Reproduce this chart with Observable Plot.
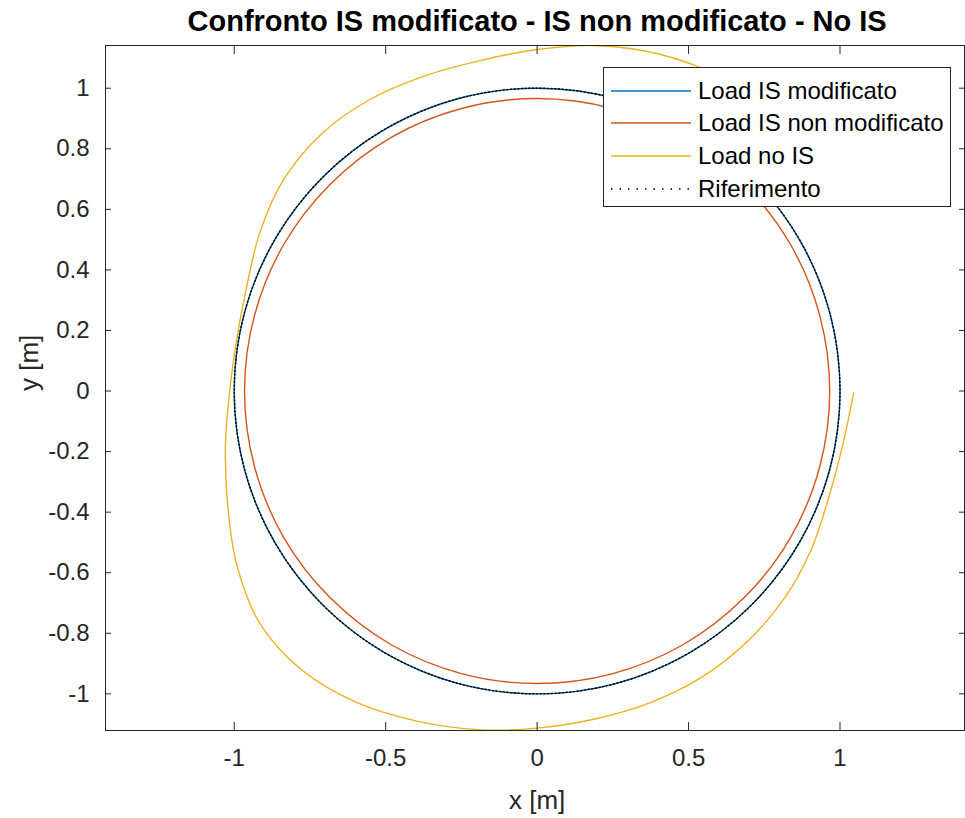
<!DOCTYPE html>
<html>
<head>
<meta charset="utf-8">
<script src="https://cdn.jsdelivr.net/npm/d3@7"></script>
<script src="https://cdn.jsdelivr.net/npm/@observablehq/plot@0.6"></script>
<style>
  body { margin: 0; background: #fff; font-family: "Liberation Sans", Arial, Helvetica, sans-serif; }
  #wrap { position: relative; width: 965px; height: 818px; overflow: hidden; background: #fff; }
  #legend { position: absolute; left: 603px; top: 67px; width: 348px; height: 140px; box-sizing: border-box;
            border: 1px solid #262626; background: #fff; }
  .row { position: absolute; left: 0; height: 33px; display: flex; align-items: center; font-size: 24px; color: #000; white-space: nowrap; }
  .row svg { margin-left: 7px; margin-right: 7px; }
</style>
</head>
<body>
<div id="wrap"></div>
<script>
// ---- tick values ----
const xTicks = [-1, -0.5, 0, 0.5, 1];
const yTicks = [-1, -0.8, -0.6, -0.4, -0.2, 0, 0.2, 0.4, 0.6, 0.8, 1];

// ---- Riferimento (reference circle) ----
const refX = [1, 0.966, 0.866, 0.707, 0.5, 0.259, 0, -0.259, -0.5, -0.707, -0.866, -0.966, -1, -0.966, -0.866, -0.707, -0.5, -0.259, 0, 0.259, 0.5, 0.707, 0.866, 0.966];
const refY = [0, 0.259, 0.5, 0.707, 0.866, 0.966, 1, 0.966, 0.866, 0.707, 0.5, 0.259, 0, -0.259, -0.5, -0.707, -0.866, -0.966, -1, -0.966, -0.866, -0.707, -0.5, -0.259];

// ---- Load IS modificato ----
const modX = [1, 0.966, 0.866, 0.707, 0.5, 0.259, 0, -0.259, -0.5, -0.707, -0.866, -0.966, -1, -0.966, -0.866, -0.707, -0.5, -0.259, 0, 0.259, 0.5, 0.707, 0.866, 0.966];
const modY = [0, 0.259, 0.5, 0.707, 0.866, 0.966, 1, 0.966, 0.866, 0.707, 0.5, 0.259, 0, -0.259, -0.5, -0.707, -0.866, -0.966, -1, -0.966, -0.866, -0.707, -0.5, -0.259];

// ---- Load IS non modificato ----
const nonModX = [0.966, 0.933, 0.837, 0.683, 0.483, 0.25, 0, -0.25, -0.483, -0.683, -0.837, -0.933, -0.966, -0.933, -0.837, -0.683, -0.483, -0.25, 0, 0.25, 0.483, 0.683, 0.837, 0.933];
const nonModY = [0, 0.25, 0.483, 0.683, 0.837, 0.933, 0.966, 0.933, 0.837, 0.683, 0.483, 0.25, 0, -0.25, -0.483, -0.683, -0.837, -0.933, -0.966, -0.933, -0.837, -0.683, -0.483, -0.25];

// ---- Load no IS ----
const noIsX = [1.045, 1.009, 0.963, 0.905, 0.816, 0.694, 0.545, 0.374, 0.191, 0, -0.197, -0.397, -0.594, -0.775, -0.915, -0.992, -1.022, -1.029, -1.015, -0.991, -0.958, -0.914, -0.835, -0.712, -0.555, -0.378, -0.192, 0, 0.201, 0.405, 0.6, 0.771];
const noIsY = [-0.007, -0.178, -0.351, -0.523, -0.685, -0.827, -0.944, -1.029, -1.083, -1.113, -1.118, -1.09, -1.029, -0.923, -0.768, -0.573, -0.372, -0.181, 0, 0.175, 0.349, 0.528, 0.701, 0.849, 0.961, 1.038, 1.09, 1.128, 1.14, 1.112, 1.039, 0.919];

const seriesNames = ["Load IS modificato", "Load IS non modificato", "Load no IS", "Riferimento"];
const seriesColors = ["#0072BD", "#D95319", "#EDB120", "#000000"];

const toPts = (xs, ys) => xs.map((x, i) => ({x, y: ys[i]}));
const ref = toPts(refX, refY);
const mod = toPts(modX, modY);
const nonMod = toPts(nonModX, nonModY);
const noIs = toPts(noIsX, noIsY);

const fmt = d => String(+(+d).toFixed(2));
const FONT = "Liberation Sans, Arial, Helvetica, sans-serif";
const AX = "#262626";

const chart = Plot.plot({
  width: 965,
  height: 818,
  marginLeft: 105,
  marginRight: 1,
  marginTop: 45,
  marginBottom: 88,
  style: {fontFamily: FONT, background: "#fff", overflow: "visible"},
  x: {domain: [-1.425, 1.411], label: null},
  y: {domain: [-1.121, 1.141], label: null},
  marks: [
    Plot.line(mod, {x: "x", y: "y", stroke: seriesColors[0], strokeWidth: 1.4, curve: "catmull-rom-closed"}),
    Plot.line(nonMod, {x: "x", y: "y", stroke: seriesColors[1], strokeWidth: 1.4, curve: "catmull-rom-closed"}),
    Plot.line(noIs, {x: "x", y: "y", stroke: seriesColors[2], strokeWidth: 1.4, curve: "catmull-rom"}),
    Plot.line(ref, {x: "x", y: "y", stroke: seriesColors[3], strokeWidth: 1.4, strokeDasharray: "1.5,2.2", curve: "catmull-rom-closed"}),
    Plot.frame({stroke: AX, strokeWidth: 1}),
    Plot.axisX(xTicks, {anchor: "bottom", tickSize: -8, tickPadding: 26, tickFormat: fmt, fontSize: 24, color: AX, label: null}),
    Plot.axisX(xTicks, {anchor: "top", tickSize: -8, tickFormat: () => "", color: AX, label: null}),
    Plot.axisY(yTicks, {anchor: "left", tickSize: -6, tickPadding: 22, tickFormat: fmt, fontSize: 24, color: AX, label: null}),
    Plot.axisY(yTicks, {anchor: "right", tickSize: -6, tickFormat: () => "", color: AX, label: null}),
    Plot.text([0], {x: d => d, text: () => "Confronto IS modificato - IS non modificato - No IS", frameAnchor: "top", lineAnchor: "middle", dy: -24, fontSize: 29, fontWeight: "bold", fill: "#000"}),
    Plot.text([0], {x: d => d, text: () => "x [m]", frameAnchor: "bottom", lineAnchor: "middle", dy: 70, fontSize: 26, fill: AX}),
    Plot.text([0], {y: d => d, text: () => "y [m]", frameAnchor: "left", lineAnchor: "middle", dx: -76, rotate: -90, fontSize: 26, fill: AX})
  ]
});

const wrap = document.getElementById("wrap");
wrap.appendChild(chart);

// legend overlay
const legend = document.createElement("div");
legend.id = "legend";
const rowTops = [6, 38, 71, 104];
seriesNames.forEach((name, i) => {
  const row = document.createElement("div");
  row.className = "row";
  row.style.top = rowTops[i] + "px";
  const dash = i === 3 ? ' stroke-dasharray="1.5,7"' : '';
  row.innerHTML = `<svg width="80" height="10"><line x1="0" y1="5" x2="80" y2="5" stroke="${seriesColors[i]}" stroke-width="1.4"${dash}/></svg><span>${name}</span>`;
  legend.appendChild(row);
});
wrap.appendChild(legend);
</script>
</body>
</html>
